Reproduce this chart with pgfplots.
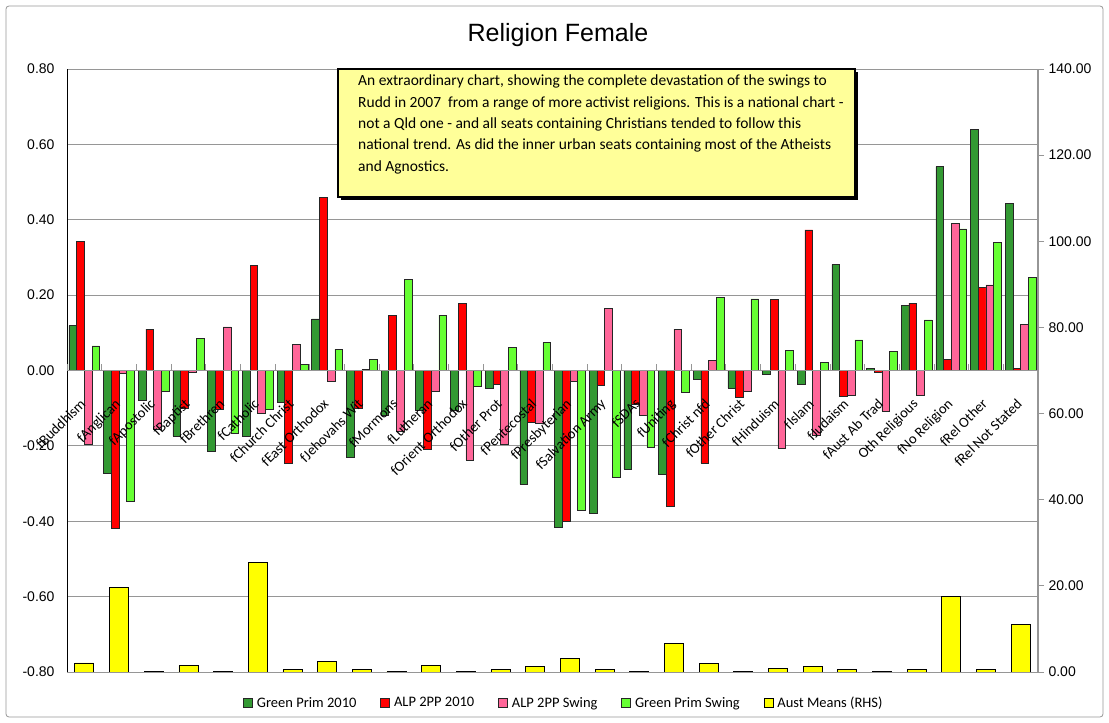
\documentclass[border=0pt]{standalone}
\usepackage{fontspec}
\setmainfont{Liberation Sans}
\newfontfamily\catfont{Carlito}
\usepackage{pgfplots}
\usepackage{pgfplotstable}
\pgfplotsset{compat=1.18}

\definecolor{gprim}{RGB}{51,153,51}
\definecolor{alp}{RGB}{255,0,0}
\definecolor{alpsw}{RGB}{255,102,153}
\definecolor{gsw}{RGB}{102,255,51}
\definecolor{aus}{RGB}{255,255,0}
\definecolor{gridc}{RGB}{150,150,150}
\definecolor{boxy}{RGB}{255,255,153}

% x  GreenPrim2010  ALP2PP2010  ALP2PPSwing  GreenPrimSwing  AustMeans
\pgfplotstableread{
x gp alp alpsw gsw aus
0 0.119 0.343 -0.195 0.065 2.1
1 -0.273 -0.418 -0.006 -0.347 19.7
2 -0.078 0.110 -0.156 -0.054 0.2
3 -0.174 -0.100 -0.005 0.086 1.5
4 -0.213 -0.103 0.116 -0.167 0.2
5 -0.174 0.278 -0.114 -0.103 25.4
6 -0.085 -0.245 0.069 0.017 0.5
7 0.137 0.459 -0.028 0.057 2.4
8 -0.230 -0.100 0.003 0.030 0.5
9 -0.119 0.147 -0.160 0.242 0.2
10 -0.106 -0.209 -0.054 0.147 1.6
11 -0.105 0.179 -0.237 -0.042 0.2
12 -0.047 -0.037 -0.195 0.062 0.5
13 -0.302 -0.138 -0.140 0.074 1.3
14 -0.415 -0.400 -0.028 -0.370 3.2
15 -0.379 -0.039 0.165 -0.282 0.5
16 -0.261 -0.089 -0.119 -0.203 0.2
17 -0.275 -0.359 0.110 -0.057 6.6
18 -0.023 -0.246 0.027 0.194 1.9
19 -0.047 -0.072 -0.054 0.190 0.2
20 -0.010 0.189 -0.207 0.053 0.8
21 -0.037 0.373 -0.171 0.021 1.3
22 0.281 -0.069 -0.066 0.081 0.5
23 0.006 -0.005 -0.108 0.051 0.2
24 0.173 0.179 -0.066 0.134 0.5
25 0.541 0.030 0.391 0.376 17.5
26 0.640 0.221 0.227 0.340 0.5
27 0.444 0.006 0.122 0.247 11.0
}\data

\pgfplotsset{frame/.style={at={(67pt,51pt)}, anchor=south west,
  scale only axis, width=971pt, height=603pt, xmin=-0.5, xmax=27.5}}

\begin{document}
\begin{tikzpicture}[x=1pt,y=1pt]
\useasboundingbox (0,0) rectangle (1109,723);
\draw[gridc, rounded corners=3pt, line width=0.8pt] (6,6) rectangle (1103,717);
\node[font=\fontsize{25}{28}\selectfont] at (558,688) {Religion Female};

% primary axis: four party series
\begin{axis}[frame, ymin=-0.8, ymax=0.8,
  axis x line=none, axis y line*=left,
  y axis line style={-, black, line width=0.8pt},
  ybar=0pt, bar width=7.7pt,
  ymajorgrids, major grid style={gridc, line width=0.8pt},
  ytick={-0.8,-0.6,-0.4,-0.2,0,0.2,0.4,0.6,0.8},
  yticklabels={-0.80,-0.60,-0.40,-0.20,0.00,0.20,0.40,0.60,0.80},
  y tick label style={font=\fontsize{14}{16}\selectfont, xshift=-9pt},
  major tick length=0pt,
  legend style={at={(0.5118,-0.0514)}, anchor=center, legend columns=5, draw=none, fill=none,
    font=\catfont\fontsize{14.5}{16}\selectfont,
    /tikz/every odd column/.append style={column sep=2pt},
    /tikz/every even column/.append style={column sep=22pt}},
  legend image code/.code={\draw[#1, line width=0.6pt] (0pt,-4.5pt) rectangle (9pt,4.5pt);},
]
\addplot[fill=gprim, draw=black!85, line width=0.5pt] table[x=x,y=gp]{\data};
\addlegendentry{Green Prim 2010}
\addplot[fill=alp, draw=black!85, line width=0.5pt] table[x=x,y=alp]{\data};
\addlegendentry{ALP 2PP 2010}
\addplot[fill=alpsw, draw=black!85, line width=0.5pt] table[x=x,y=alpsw]{\data};
\addlegendentry{ALP 2PP Swing}
\addplot[fill=gsw, draw=black!85, line width=0.5pt] table[x=x,y=gsw]{\data};
\addlegendentry{Green Prim Swing}
\addlegendimage{fill=aus, draw=black}
\addlegendentry{Aust Means (RHS)}
\end{axis}

% secondary axis: Aust means
\begin{axis}[frame, ymin=0, ymax=140,
  axis x line=none, axis y line*=right,
  y axis line style={-, gridc, line width=1.2pt},
  ytick={0,20,40,60,80,100,120,140},
  yticklabels={0.00,20.00,40.00,60.00,80.00,100.00,120.00,140.00},
  y tick label style={font=\fontsize{14}{16}\selectfont, xshift=1pt},
  ytick style={gridc, line width=0.8pt},
  tick align=outside, major tick length=6pt,
  ybar, bar width=19pt,
]
\addplot[fill=aus, draw=black, line width=0.7pt] table[x=x,y=aus]{\data};
\end{axis}

% category axis through zero, drawn on top of the bars
\begin{axis}[frame, ymin=-0.8, ymax=0.8,
  axis x line*=middle, axis y line=none,
  x axis line style={-, gridc, line width=1.4pt},
  ytick=\empty,
  xtick={0,...,27},
  xticklabels={fBuddhism,fAnglican,fApostolic,fBaptist,fBrethren,fCatholic,fChurch Christ,fEast Orthodox,fJehovahs Wit,fMormons,fLutheran,fOrient Orthodox,fOther Prot,fPentecostal,fPresbyterian,fSalvation Army,fSDAs,fUniting,fChrist nfd,fOther Christ,fHinduism,fIslam,fJudaism,fAust Ab Trad,Oth Religious,fNo Religion,fRel Other,fRel Not Stated},
  x tick label style={xshift=-5pt, yshift=-27pt, rotate=45, anchor=north east,
    font=\catfont\fontsize{14.5}{16}\selectfont, inner sep=0pt},
  major tick length=0pt,
  minor xtick={-0.5,0.5,...,27.5}, minor tick length=6pt,
  minor x tick style={gridc, line width=0.8pt},
]
\end{axis}

\fill[black] (341,523) rectangle (858,651);
\draw[black, line width=2pt, fill=boxy] (338,526) rectangle (855,654);
\node[anchor=north west, align=left, inner sep=0pt,
  font=\catfont\fontsize{15.5}{21.3}\selectfont] at (358,648) {%
An extraordinary chart, showing the complete devastation of the swings to\\
Rudd in 2007\ \ from a range of more activist religions. This is a national chart -\\
not a Qld one - and all seats containing Christians tended to follow this\\
national trend. As did the inner urban seats containing most of the Atheists\\
and Agnostics.};
\end{tikzpicture}
\end{document}
